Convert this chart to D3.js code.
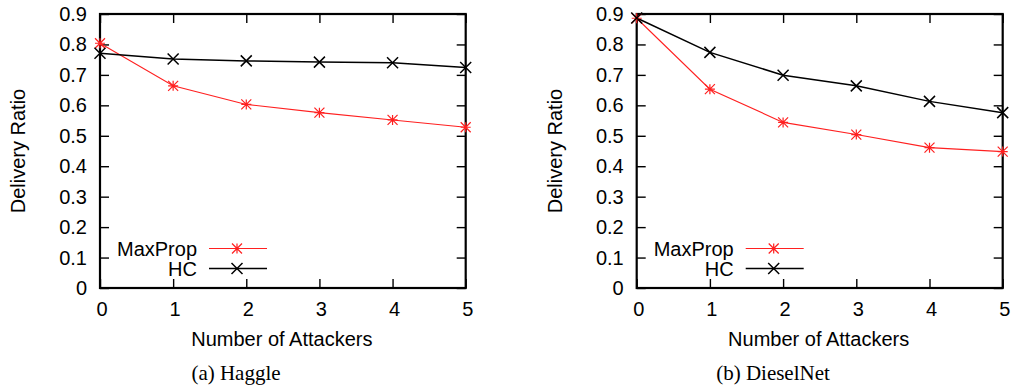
<!DOCTYPE html>
<html lang="en">
<head>
	<meta charset="UTF-8" />
	<title>Delivery Ratio vs Number of Attackers</title>
	<script type="text/javascript" src="https://cdn.jsdelivr.net/npm/d3@7/dist/d3.min.js"></script>
	<style>
		body { margin: 0; background: #fff; }
		text { font-family: "Liberation Sans", Arial, sans-serif; fill: #000; }
		.caption { font-family: "Liberation Serif", "Times New Roman", serif; }
	</style>
</head>
<body>
	<svg id="vis" width="1013" height="389"></svg>
	<script type="text/javascript">
		// Données
		var attackers = [0, 1, 2, 3, 4, 5];
		var yTicks = [0, 0.1, 0.2, 0.3, 0.4, 0.5, 0.6, 0.7, 0.8, 0.9];
		var seriesNames = ["MaxProp", "HC"];

		var haggleMaxProp = [0.804, 0.664, 0.603, 0.576, 0.552, 0.528];
		var haggleHC = [0.771, 0.752, 0.746, 0.742, 0.740, 0.724];

		var dieselMaxProp = [0.886, 0.653, 0.544, 0.504, 0.461, 0.448];
		var dieselHC = [0.887, 0.774, 0.699, 0.664, 0.613, 0.576];

		var captions = ["(a)  Haggle", "(b)  DieselNet"];

		var svg = d3.select("#vis");

		// marqueurs façon gnuplot
		function markerStar(g, x, y, c) {
			var r = 5;
			g.append("path")
				.attr("d", "M" + (x - r) + "," + y + "H" + (x + r) +
					"M" + x + "," + (y - r) + "V" + (y + r) +
					"M" + (x - r) + "," + (y - r) + "L" + (x + r) + "," + (y + r) +
					"M" + (x - r) + "," + (y + r) + "L" + (x + r) + "," + (y - r))
				.attr("stroke", c)
				.attr("stroke-width", 1.2)
				.attr("fill", "none");
		}

		function markerCross(g, x, y, c) {
			var r = 5.5;
			g.append("path")
				.attr("d", "M" + (x - r) + "," + (y - r) + "L" + (x + r) + "," + (y + r) +
					"M" + (x - r) + "," + (y + r) + "L" + (x + r) + "," + (y - r))
				.attr("stroke", c)
				.attr("stroke-width", 1.5)
				.attr("fill", "none");
		}

		function drawPanel(left, right, maxProp, hc, caption, titleX, captionX) {
			var top = 14, bottom = 288;

			var scaleX = d3.scaleLinear()
				.domain([0, 5])
				.range([left, right]);

			var scaleY = d3.scaleLinear()
				.domain([0, 0.9])
				.range([bottom, top]);

			var g = svg.append("g");

			// Axes (ticks vers l'intérieur, sur les 4 côtés)
			g.append("g")
				.attr("transform", "translate(" + left + ",0)")
				.call(d3.axisRight(scaleY).tickValues(yTicks).tickSize(9).tickFormat(""));
			g.append("g")
				.attr("transform", "translate(" + right + ",0)")
				.call(d3.axisLeft(scaleY).tickValues(yTicks).tickSize(9).tickFormat(""));
			g.append("g")
				.attr("transform", "translate(0," + bottom + ")")
				.call(d3.axisTop(scaleX).tickValues(attackers).tickSize(9).tickFormat(""));
			g.append("g")
				.attr("transform", "translate(0," + top + ")")
				.call(d3.axisBottom(scaleX).tickValues(attackers).tickSize(9).tickFormat(""));

			g.selectAll(".domain").remove();
			g.selectAll(".tick line").attr("stroke", "#000").attr("stroke-width", 1.4);

			// cadre
			g.append("rect")
				.attr("x", left)
				.attr("y", top)
				.attr("width", right - left)
				.attr("height", bottom - top)
				.attr("fill", "none")
				.attr("stroke", "#000")
				.attr("stroke-width", 2.2);

			// étiquettes Y
			g.selectAll(".ylab")
				.data(yTicks)
				.enter()
				.append("text")
				.attr("x", left - 13)
				.attr("y", function(d) { return scaleY(d) + 7; })
				.attr("text-anchor", "end")
				.style("font-size", "20px")
				.text(function(d) { return d === 0 ? "0" : d3.format(".1f")(d); });

			// étiquettes X
			g.selectAll(".xlab")
				.data(attackers)
				.enter()
				.append("text")
				.attr("x", function(d) { return scaleX(d) + 2; })
				.attr("y", 315.5)
				.attr("text-anchor", "middle")
				.style("font-size", "20px")
				.text(function(d) { return d; });

			// titres
			g.append("text")
				.attr("x", (left + right) / 2 - 1)
				.attr("y", 345.5)
				.attr("text-anchor", "middle")
				.style("font-size", "20px")
				.text("Number of Attackers");

			g.append("text")
				.attr("transform", "translate(" + titleX + "," + ((top + bottom) / 2) + ") rotate(-90)")
				.attr("text-anchor", "middle")
				.style("font-size", "20px")
				.text("Delivery Ratio");

			g.append("text")
				.attr("class", "caption")
				.attr("x", captionX)
				.attr("y", 380)
				.attr("text-anchor", "middle")
				.style("font-size", "21px")
				.text(caption);

			// lignes
			var line = d3.line()
				.x(function(d, i) { return scaleX(attackers[i]); })
				.y(function(d) { return scaleY(d); });

			g.append("path")
				.attr("d", line(maxProp))
				.attr("stroke", "#ff2020")
				.attr("stroke-width", 1.1)
				.attr("fill", "none");

			g.append("path")
				.attr("d", line(hc))
				.attr("stroke", "#000")
				.attr("stroke-width", 1.5)
				.attr("fill", "none");

			for (var i = 0; i < attackers.length; i++) {
				markerStar(g, scaleX(attackers[i]), scaleY(maxProp[i]), "#ff2020");
				markerCross(g, scaleX(attackers[i]), scaleY(hc[i]), "#000");
			}

			// légende
			var lx0 = left + 109, lx1 = left + 167, lm = left + 137;
			var ly = [248.5, 268.5];
			g.append("text")
				.attr("x", left + 97)
				.attr("y", ly[0] + 7.5)
				.attr("text-anchor", "end")
				.style("font-size", "20px")
				.text(seriesNames[0]);
			g.append("line")
				.attr("x1", lx0).attr("x2", lx1)
				.attr("y1", ly[0]).attr("y2", ly[0])
				.attr("stroke", "#ff2020")
				.attr("stroke-width", 1.1);
			markerStar(g, lm, ly[0], "#ff2020");

			g.append("text")
				.attr("x", left + 97)
				.attr("y", ly[1] + 7.5)
				.attr("text-anchor", "end")
				.style("font-size", "20px")
				.text(seriesNames[1]);
			g.append("line")
				.attr("x1", lx0).attr("x2", lx1)
				.attr("y1", ly[1]).attr("y2", ly[1])
				.attr("stroke", "#000")
				.attr("stroke-width", 1.5);
			markerCross(g, lm, ly[1], "#000");
		}

		drawPanel(100, 465.7, haggleMaxProp, haggleHC, captions[0], 25, 236);
		drawPanel(636.7, 1002.7, dieselMaxProp, dieselHC, captions[1], 562, 773);
	</script>
</body>
</html>
